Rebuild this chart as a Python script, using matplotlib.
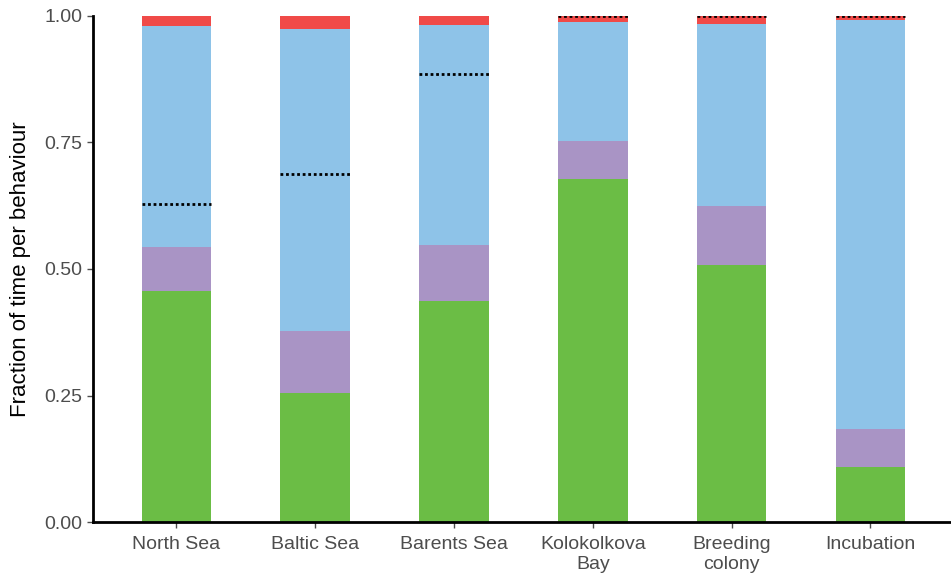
import matplotlib
matplotlib.use("Agg")
import matplotlib.pyplot as plt
import numpy as np

plt.rcParams['font.family'] = ['Liberation Sans', 'DejaVu Sans']

categories = ["North Sea", "Baltic Sea", "Barents Sea", "Kolokolkova\nBay", "Breeding\ncolony", "Incubation"]
green = [0.457, 0.255, 0.437, 0.678, 0.508, 0.109]
purple = [0.086, 0.122, 0.110, 0.075, 0.117, 0.075]
blue = [0.437, 0.597, 0.435, 0.235, 0.359, 0.809]
red = [0.020, 0.026, 0.018, 0.012, 0.016, 0.007]
dotted = [0.628, 0.688, 0.885, 1.0, 1.0, 1.0]
yticks = [0.0, 0.25, 0.5, 0.75, 1.0]
ytick_labels = ["0.00", "0.25", "0.50", "0.75", "1.00"]

colors = ["#6BBD45", "#A994C5", "#8EC3E8", "#F04A48"]

fig = plt.figure(figsize=(9.51, 5.77), dpi=100)
ax = fig.add_axes([0.0978, 0.0953, 0.9022, 0.877])

x = np.arange(1, len(categories) + 1)
width = 0.5
bottom = np.zeros(len(categories))
for vals, c in zip([green, purple, blue, red], colors):
    ax.bar(x, vals, width=width, bottom=bottom, color=c, edgecolor='none', zorder=2)
    bottom += np.array(vals)

for xi, d in zip(x, dotted):
    ax.hlines(d, xi - width / 2, xi + width / 2, colors='black', linestyles=(0, (1, 1)), linewidth=2, zorder=3)

ax.set_xlim(0.4, 6.58)
ax.set_ylim(0, 1.0)
ax.set_yticks(yticks)
ax.set_yticklabels(ytick_labels)
ax.set_xticks(x)
ax.set_xticklabels(categories)
ax.set_ylabel("Fraction of time per behaviour", fontsize=16, color='black', labelpad=10)
ax.tick_params(axis='both', labelsize=14, labelcolor='#4D4D4D', color='#4D4D4D', length=4, width=1)
ax.tick_params(axis='x', pad=6)
for s in ['top', 'right']:
    ax.spines[s].set_visible(False)
for s in ['left', 'bottom']:
    ax.spines[s].set_linewidth(2)
    ax.spines[s].set_color('black')

fig.savefig("out.png", dpi=100)
